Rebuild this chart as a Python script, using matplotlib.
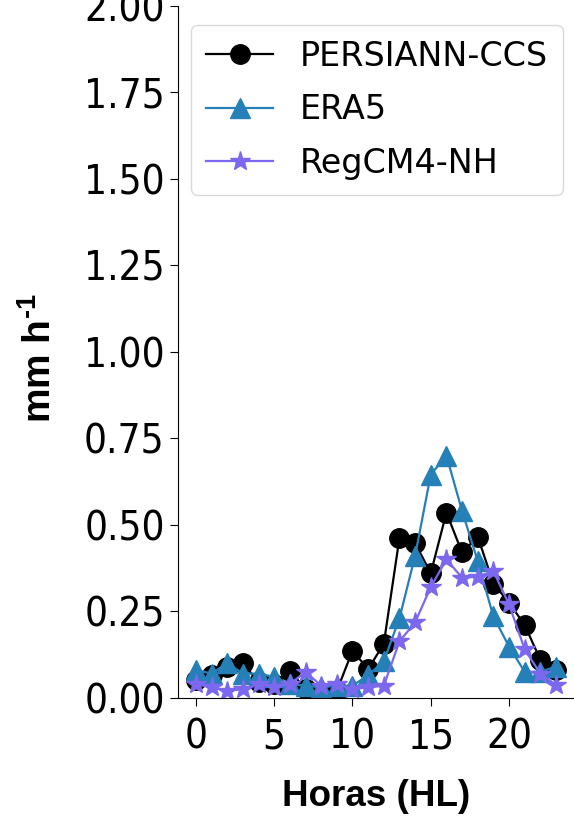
import matplotlib
matplotlib.use("Agg")
import matplotlib.pyplot as plt
import numpy as np

plt.rcParams['mathtext.fontset'] = 'custom'
plt.rcParams['mathtext.rm'] = 'Liberation Sans:bold'
plt.rcParams['mathtext.bf'] = 'Liberation Sans:bold'

hours = list(range(24))

persiann = [0.05, 0.065, 0.09, 0.10, 0.045, 0.04, 0.078, 0.025, 0.015, 0.02, 0.136, 0.083,
            0.156, 0.462, 0.447, 0.36, 0.535, 0.42, 0.466, 0.33, 0.275, 0.21, 0.11, 0.08]
era5 = [0.08, 0.07, 0.10, 0.07, 0.07, 0.06, 0.04, 0.035, 0.03, 0.035, 0.035, 0.065,
        0.105, 0.23, 0.41, 0.645, 0.70, 0.54, 0.395, 0.235, 0.148, 0.075, 0.075, 0.09]
regcm = [0.04, 0.03, 0.02, 0.025, 0.04, 0.03, 0.04, 0.075, 0.035, 0.04, 0.025, 0.03,
         0.035, 0.163, 0.218, 0.32, 0.40, 0.347, 0.35, 0.366, 0.27, 0.14, 0.07, 0.037]

yticks = [0.0, 0.25, 0.5, 0.75, 1.0, 1.25, 1.5, 1.75, 2.0]
xticks = [0, 5, 10, 15, 20]

fig = plt.figure(figsize=(5.74, 8.19), dpi=100)
ax = fig.add_axes([0.310, 0.148, 0.690, 0.845])

ax.plot(hours, persiann, color='black', marker='o', markersize=14, linewidth=1.6,
        label='PERSIANN-CCS')
ax.plot(hours, era5, color='#2680b8', marker='^', markersize=14, linewidth=1.6,
        label='ERA5')
ax.plot(hours, regcm, color='#7b68ee', marker='*', markersize=15, linewidth=1.6,
        label='RegCM4-NH')

ax.set_ylim(0, 2.0)
ax.set_yticks(yticks)
ax.set_yticklabels(['%.2f' % v for v in yticks])
ax.set_xticks(xticks)
ax.tick_params(labelsize=29, length=6)
ax.tick_params(axis='x', pad=8)
for lab in ax.get_xticklabels() + ax.get_yticklabels():
    lab.set_fontstretch('condensed')

ax.spines['top'].set_visible(False)
ax.spines['right'].set_visible(False)

ax.set_xlabel('Horas (HL)', fontsize=26.5, fontweight='bold', family='Liberation Sans',
              labelpad=16)
ax.set_ylabel('mm h$^{\\text{-1}}$', fontsize=28, fontweight='bold',
              family='Liberation Sans')
ax.yaxis.set_label_coords(-0.30, 0.49)

leg = ax.legend(loc='upper left', fontsize=24, bbox_to_anchor=(0.0, 0.992),
                borderaxespad=0.4, handlelength=2.0, labelspacing=0.62,
                borderpad=0.45)
leg.get_frame().set_edgecolor('#d0d0d0')

fig.savefig('out.png', dpi=100)
